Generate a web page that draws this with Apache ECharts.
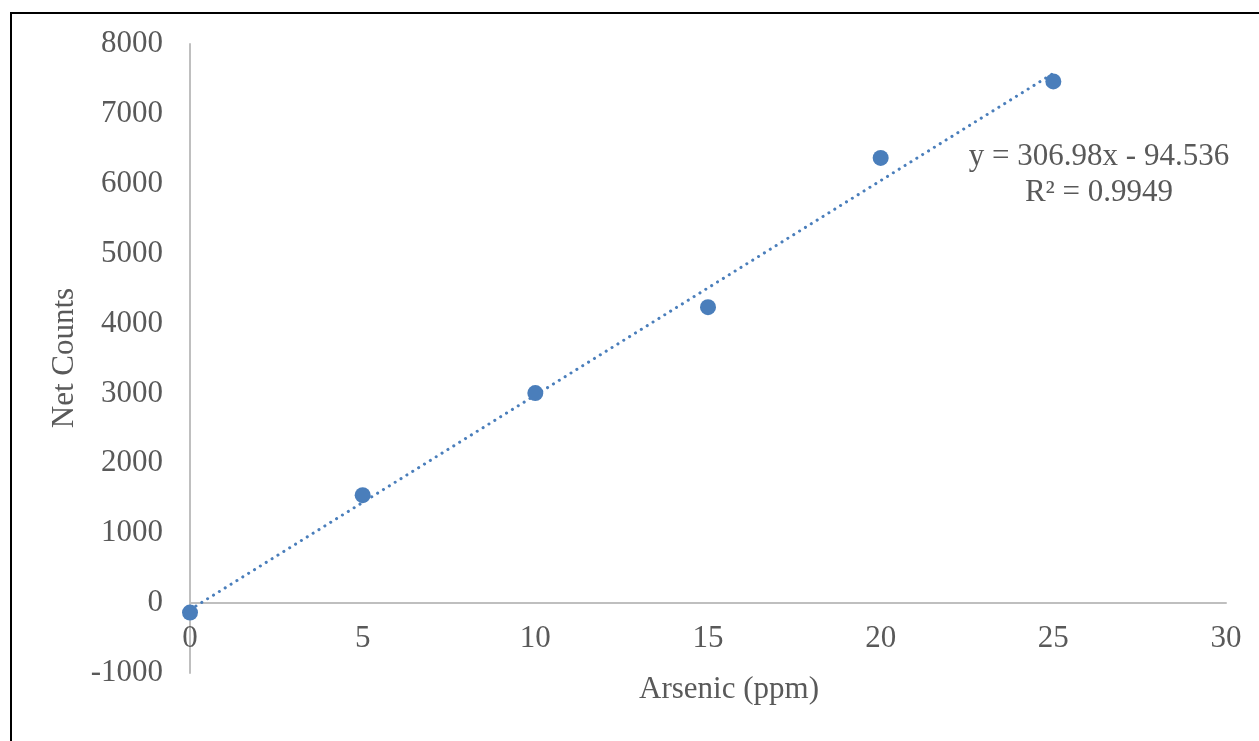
<!DOCTYPE html>
<html>
<head>
<meta charset="utf-8">
<script src="https://cdn.jsdelivr.net/npm/echarts@6/dist/echarts.min.js"></script>
<style>
  html, body { margin: 0; padding: 0; background: #fff; overflow: hidden; }
  #frame { position: absolute; left: 10px; top: 12px; width: 1300px; height: 800px; border: 2px solid #000; box-sizing: border-box; }
  #chart { position: absolute; left: 0; top: 0; width: 1259px; height: 741px; }
</style>
</head>
<body>
<div id="frame"></div>
<div id="chart"></div>
<script>
const arsenicPpm = [0, 5, 10, 15, 20, 25]
const netCounts = [-135, 1545, 3005, 4235, 6370, 7465]
const slope = 306.98
const intercept = -94.536
const equationLines = ['y = 306.98x - 94.536', 'R² = 0.9949']

const points = arsenicPpm.map((x, i) => [x, netCounts[i]])
const trendX = [arsenicPpm[0], arsenicPpm[arsenicPpm.length - 1]]
const trend = trendX.map(x => [x, slope * x + intercept])

const font = 'Liberation Serif, Times New Roman, serif'
const textColor = '#595959'
const axisColor = '#bfbfbf'

const myChart = echarts.init(document.getElementById('chart'))

const option = {
  animation: false,
  grid: { left: 190, right: 33, top: 44, bottom: 68 },
  xAxis: {
    type: 'value',
    min: 0,
    max: 30,
    interval: 5,
    axisLine: { onZero: true, lineStyle: { color: axisColor, width: 2 } },
    axisTick: { show: false },
    splitLine: { show: false },
    axisLabel: { color: textColor, fontFamily: font, fontSize: 31, margin: -50 }
  },
  yAxis: {
    type: 'value',
    min: -1000,
    max: 8000,
    interval: 1000,
    axisLine: { show: true, lineStyle: { color: axisColor, width: 2 } },
    axisTick: { show: false },
    splitLine: { show: false },
    axisLabel: { color: textColor, fontFamily: font, fontSize: 31, margin: 27, formatter: v => String(v) }
  },
  graphic: [
    {
      type: 'text',
      x: 729,
      y: 690,
      style: { text: 'Arsenic (ppm)', fill: textColor, font: '31px ' + font, align: 'center', verticalAlign: 'middle' }
    },
    {
      type: 'text',
      x: 65,
      y: 358,
      rotation: Math.PI / 2,
      style: { text: 'Net Counts', fill: textColor, font: '31px ' + font, align: 'center', verticalAlign: 'middle' }
    },
    {
      type: 'text',
      x: 1099,
      y: 157,
      style: { text: equationLines[0], fill: textColor, font: '31px ' + font, align: 'center', verticalAlign: 'middle' }
    },
    {
      type: 'text',
      x: 1099,
      y: 193,
      style: { text: equationLines[1], fill: textColor, font: '31px ' + font, align: 'center', verticalAlign: 'middle' }
    }
  ],
  series: [
    {
      name: 'Trend',
      type: 'line',
      data: trend,
      showSymbol: false,
      lineStyle: { color: '#4a7ebb', width: 3, type: [0.1, 6.8], cap: 'round' },
      z: 1
    },
    {
      name: 'Net Counts',
      type: 'scatter',
      data: points,
      symbol: 'circle',
      symbolSize: 16,
      itemStyle: { color: '#4a7ebb', opacity: 1 },
      z: 2
    }
  ]
}

myChart.setOption(option)
</script>
</body>
</html>
